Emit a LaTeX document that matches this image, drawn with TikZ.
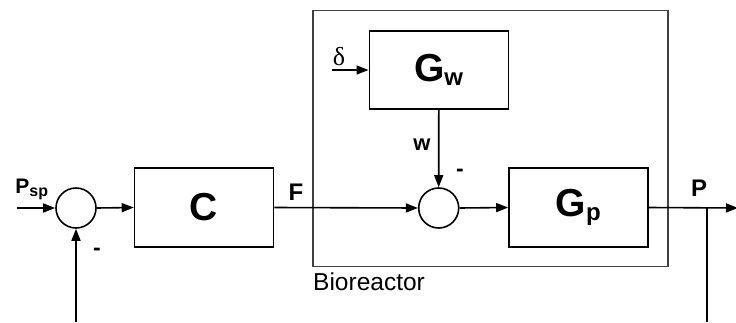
\documentclass[tikz,border=0pt]{standalone}
\usepackage{fontspec}
\setmainfont{Liberation Sans}
\newfontfamily\seriffont{Liberation Serif}
\usetikzlibrary{arrows.meta}
\tikzset{
  blk/.style={draw, line width=1.6pt, rectangle, minimum width=139pt, minimum height=79pt, inner sep=0pt, font=\bfseries\fontsize{39}{42}\selectfont},
  sumc/.style={draw, line width=1.6pt, circle, minimum size=40pt, inner sep=0pt},
  sig/.style={line width=1.6pt, -{Triangle[length=12pt,width=9pt]}},
  wire/.style={line width=1.6pt},
  lbl/.style={font=\bfseries\fontsize{24}{26}\selectfont, inner sep=0pt},
  minus/.style={font=\bfseries\fontsize{23}{24}\selectfont, inner sep=0pt},
}
\begin{document}
\begin{tikzpicture}[x=1pt, y=-1pt]
\useasboundingbox (0,0) rectangle (736,322);
% outer bioreactor frame
\node[draw=black!75, line width=1.1pt, rectangle, minimum width=355pt, minimum height=256pt, inner sep=0pt] (bio) at (490.5,138.5) {};
\node[anchor=west, inner sep=0pt, font=\fontsize{24.5}{26}\selectfont] (biolbl) at (313,282) {Bioreactor};
% blocks
\node[sumc] (s1) at (76,208) {};
\node[blk] (C) at (204,207.5) {C};
\node[blk, minimum height=78pt] (Gw) at (438.8,70) {G\textsubscript{\fontsize{24}{26}\selectfont w}};
\node[sumc] (s2) at (438.7,208) {};
\node[blk] (Gp) at (578.5,207.5) {G\textsubscript{\fontsize{24}{26}\selectfont p}};
% free ends
\coordinate (pin) at (17,208);
\coordinate (din) at (332,70);
\coordinate (pout) at (738,208);
\coordinate (br) at (706.7,208);
\coordinate (brend) at (706.7,322);
\coordinate (fbstart) at (76,322);
% connectors
\draw[sig] (pin) -- (s1.west);
\draw[sig] (s1.east) -- (C.west);
\draw[sig] (C.east) -- (s2.west);
\draw[sig] (din) -- (Gw.west);
\draw[sig] (Gw.south) -- (s2.north);
\draw[sig] (s2.east) -- (Gp.west);
\draw[sig] (Gp.east) -- (pout);
\draw[wire] (br) -- (brend);
\draw[sig] (fbstart) -- (s1.south);
% labels
\node[inner sep=0pt] (psp) at (32,189) {\bfseries\fontsize{21}{22}\selectfont P\textsubscript{\fontsize{16}{17}\selectfont sp}};
\node[lbl] (F) at (296,192) {F};
\node[lbl] (P) at (699,188) {P};
\node[inner sep=0pt, font=\bfseries\fontsize{22}{24}\selectfont] (w) at (422,145) {w};
\node[minus] (m1) at (97,252) {-};
\node[minus] (m2) at (460,173) {-};
\node[inner sep=0pt, font=\seriffont\fontsize{26}{28}\selectfont] (d) at (339,57) {δ};
\end{tikzpicture}
\end{document}
